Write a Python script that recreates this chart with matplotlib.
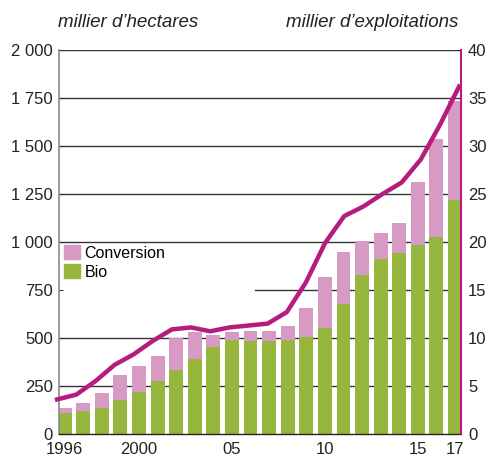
"""
Surfaces en bio / en conversion et nombre d'exploitations bio, 1996-2017
"""

import matplotlib
matplotlib.use("Agg")
import matplotlib.pyplot as plt
from matplotlib.patches import Patch
import numpy as np

plt.rcParams["font.family"] = ["Liberation Sans", "DejaVu Sans"]

years = np.arange(1996, 2018)
# millier d'hectares
bio = [108, 118, 137, 177, 217, 277, 332, 392, 453, 487, 482,
       482, 487, 507, 552, 675, 828, 911, 943, 984, 1027, 1217]
total = [133, 162, 212, 307, 352, 407, 502, 532, 517, 532, 537,
         537, 562, 657, 818, 948, 1005, 1049, 1098, 1310, 1536, 1732]
conversion = [t - b for t, b in zip(total, bio)]
# millier d'exploitations
exploitations = [3.6, 4.1, 5.5, 7.2, 8.3, 9.7, 10.9, 11.1, 10.7, 11.1, 11.3,
                 11.5, 12.7, 15.8, 19.9, 22.7, 23.7, 25.0, 26.2, 28.6, 32.2, 36.2]

left_ticks = [0, 250, 500, 750, 1000, 1250, 1500, 1750, 2000]
left_labels = ["0", "250", "500", "750", "1 000", "1 250", "1 500", "1 750", "2 000"]
right_ticks = [0, 5, 10, 15, 20, 25, 30, 35, 40]
x_ticks = [1996, 2000, 2005, 2010, 2015, 2017]
x_labels = ["1996", "2000", "05", "10", "15", "17"]

GREEN = "#97B63D"
PINK = "#D79AC5"
MAGENTA = "#B41C7E"
TXT = "#222222"

fig = plt.figure(figsize=(4.88, 4.57), dpi=100)
rect = [59 / 488, 23 / 457, 402 / 488, 384 / 457]
ax = fig.add_axes(rect)

ax.bar(years, bio, width=0.75, color=GREEN, zorder=2)
ax.bar(years, conversion, bottom=bio, width=0.75, color=PINK, zorder=2)

ax.set_xlim(1995.70, 2017.32)
ax.set_ylim(0, 2000)

# grid lines (the 750 one is hidden behind the legend)
for v in left_ticks[1:]:
    xmin = 0.488 if v == 750 else 0
    ax.axhline(v, xmin=xmin, color="#333333", lw=1.0, zorder=1)

ax.set_yticks(left_ticks)
ax.set_yticklabels(left_labels)
ax.set_xticks(x_ticks)
ax.set_xticklabels(x_labels)
ax.tick_params(axis="y", direction="in", length=3, color="#333333",
               labelsize=12, labelcolor=TXT, pad=4.5)
ax.tick_params(axis="x", length=0, labelsize=12, labelcolor=TXT, pad=6)

for s in ["top", "right"]:
    ax.spines[s].set_visible(False)
ax.spines["left"].set_color("#8a8a8a")
ax.spines["left"].set_linewidth(1.2)
ax.spines["bottom"].set_color("#222222")
ax.spines["bottom"].set_linewidth(1.0)

handles = [Patch(color=PINK, label="Conversion"), Patch(color=GREEN, label="Bio")]
ax.legend(handles=handles, loc="upper left", bbox_to_anchor=(0.012, 0.492),
          frameon=False, fontsize=11.5, handlelength=1.0, handleheight=1.0,
          handletextpad=0.3, labelspacing=0.2, borderpad=0, borderaxespad=0)

# line on its own axes: spans the full width
ax2 = fig.add_axes(rect)
ax2.patch.set_visible(False)
ax2.plot(np.arange(len(years)), exploitations, color=MAGENTA, lw=3.2,
         solid_joinstyle="miter", clip_on=False, zorder=5)
ax2.set_xlim(0.1, 21.1)
ax2.set_ylim(0, 40)
ax2.yaxis.tick_right()
ax2.set_yticks(right_ticks)
ax2.tick_params(axis="y", length=0, labelsize=12, labelcolor=TXT, pad=5)
ax2.set_xticks([])
for s in ["top", "left", "bottom"]:
    ax2.spines[s].set_visible(False)
ax2.spines["right"].set_color(MAGENTA)
ax2.spines["right"].set_linewidth(1.5)

fig.text(58 / 488, 1 - 27 / 457, "millier d’hectares", style="italic",
         fontsize=13.5, color=TXT, ha="left", va="baseline")
fig.text(458 / 488, 1 - 27 / 457, "millier d’exploitations", style="italic",
         fontsize=13.5, color=TXT, ha="right", va="baseline")

fig.savefig("out.png", dpi=100)
